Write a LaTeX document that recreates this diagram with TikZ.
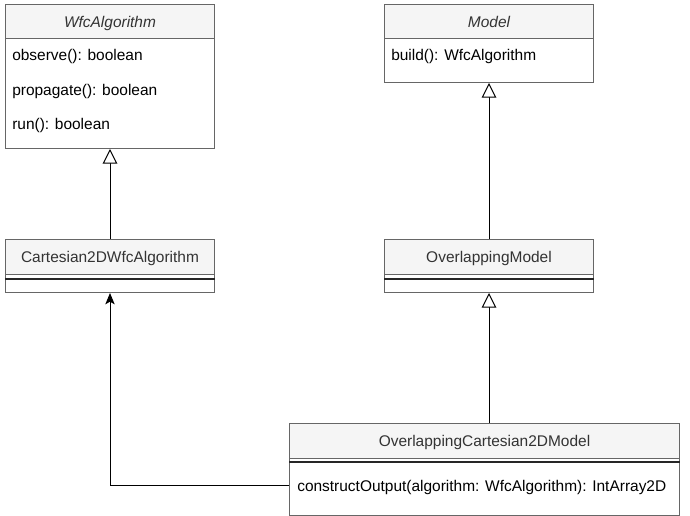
\documentclass[tikz,border=0pt]{standalone}
\usepackage{fontspec}
\setmainfont{Liberation Sans}
\usetikzlibrary{arrows.meta}
\definecolor{hdrfill}{HTML}{F5F5F5}
\definecolor{hdrtext}{HTML}{333333}
\definecolor{boxline}{HTML}{666666}
\begin{document}
\begin{tikzpicture}[x=0.75pt,y=-0.75pt,
  font=\fontsize{11.6pt}{14pt}\selectfont,
  hdr/.style={draw=boxline, fill=hdrfill, text=hdrtext, anchor=north west, inner sep=0, line width=0.75pt, text depth=0pt},
  body/.style={draw=boxline, fill=white, anchor=north west, inner sep=0, line width=0.75pt},
  member/.style={anchor=west, inner sep=0, text=black, text depth=0pt},
  sepline/.style={draw=black!85, line width=1pt},
  inherit/.style={draw=black, line width=0.75pt, -{Triangle[open, fill=white, length=11pt, width=11pt]}},
  assoc/.style={draw=black, line width=0.75pt, -{Stealth[length=8.5pt, width=7pt, inset=2pt]}}]
\useasboundingbox (0,0) rectangle (690,516);

% WfcAlgorithm
\node[body, minimum width=209*0.75pt, minimum height=110*0.75pt] (wb) at (5,38) {};
\node[hdr, minimum width=209*0.75pt, minimum height=34*0.75pt] (wh) at (5,4) {\itshape WfcAlgorithm};
\node[member] (w1) at (12,55) {observe(): boolean};
\node[member] (w2) at (12,90) {propagate(): boolean};
\node[member] (w3) at (12,124) {run(): boolean};

% Model
\node[body, minimum width=209*0.75pt, minimum height=44*0.75pt] (mb) at (384,38) {};
\node[hdr, minimum width=209*0.75pt, minimum height=34*0.75pt] (mh) at (384,4) {\itshape Model};
\node[member] (m1) at (391,55) {build(): WfcAlgorithm};

% Cartesian2DWfcAlgorithm
\node[body, minimum width=209*0.75pt, minimum height=18*0.75pt] (cb) at (5,274) {};
\node[hdr, minimum width=209*0.75pt, minimum height=35*0.75pt] (ch) at (5,239) {Cartesian2DWfcAlgorithm};
\draw[sepline] ([yshift=-5*0.75pt]cb.north west) -- ([yshift=-5*0.75pt]cb.north east);

% OverlappingModel
\node[body, minimum width=209*0.75pt, minimum height=18*0.75pt] (ob) at (384,274) {};
\node[hdr, minimum width=209*0.75pt, minimum height=35*0.75pt] (oh) at (384,239) {OverlappingModel};
\draw[sepline] ([yshift=-5*0.75pt]ob.north west) -- ([yshift=-5*0.75pt]ob.north east);

% OverlappingCartesian2DModel
\node[body, minimum width=390*0.75pt, minimum height=57*0.75pt] (xb) at (289,458) {};
\node[hdr, minimum width=390*0.75pt, minimum height=35*0.75pt] (xh) at (289,423) {OverlappingCartesian2DModel};
\draw[sepline] ([yshift=-4*0.75pt]xb.north west) -- ([yshift=-4*0.75pt]xb.north east);
\node[member] (x1) at (297,486) {constructOutput(algorithm: WfcAlgorithm): IntArray2D};

% connectors
\draw[inherit] (ch.north) -- (wb.south);
\draw[inherit] (oh.north) -- (mb.south);
\draw[inherit] (ob.south |- xh.north) -- (ob.south);
\draw[assoc] (xb.west |- x1.west) -| (cb.south);
\end{tikzpicture}
\end{document}
